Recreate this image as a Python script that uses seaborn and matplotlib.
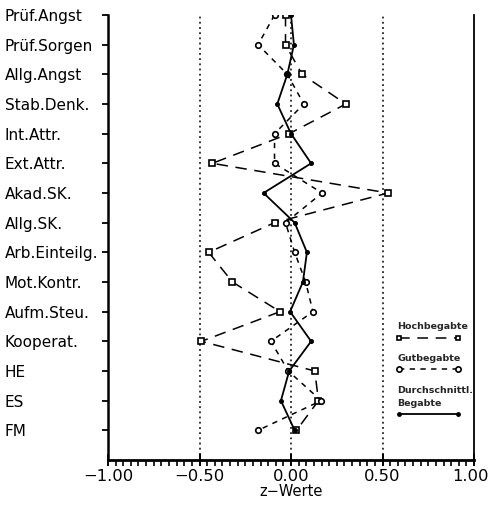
import numpy as np
import pandas as pd
import matplotlib
matplotlib.use("Agg")
import matplotlib.pyplot as plt
from matplotlib.ticker import MultipleLocator
from matplotlib.lines import Line2D
from matplotlib.transforms import ScaledTranslation
import seaborn as sns

# ---------------- data ----------------
categories = ["Prüf.Angst", "Prüf.Sorgen", "Allg.Angst", "Stab.Denk.", "Int.Attr.",
              "Ext.Attr.", "Akad.SK.", "Allg.SK.", "Arb.Einteilg.", "Mot.Kontr.",
              "Aufm.Steu.", "Kooperat.", "HE", "ES", "FM"]
hochbegabte = [-0.03, -0.03, 0.06, 0.30, -0.01, -0.43, 0.53, -0.09, -0.45, -0.32,
               -0.06, -0.49, 0.13, 0.15, 0.03]
gutbegabte = [-0.09, -0.18, -0.02, 0.07, -0.09, -0.09, 0.17, -0.03, 0.02, 0.08,
              0.12, -0.11, -0.015, 0.165, -0.18]
durchschnittl = [0.00, 0.016, -0.02, -0.075, 0.00, 0.11, -0.15, 0.02, 0.087, 0.065,
                 -0.005, 0.11, -0.01, -0.055, 0.02]
x_ticks = [-1.0, -0.5, 0.0, 0.5, 1.0]
x_ticklabels = ["\u22121.00", "\u22120.50", "0.00", "0.50", "1.00"]
ref_lines = [-0.5, 0.0, 0.5]
x_label = "z\u2212Werte"
legend_labels = ["Hochbegabte", "Gutbegabte", "Durchschnittl.\nBegabte"]

pos = np.arange(len(categories))
df = pd.DataFrame({"pos": pos, "hoch": hochbegabte, "gut": gutbegabte,
                   "durch": durchschnittl})

# ---------------- figure ----------------
sns.set_theme(style="ticks")
plt.rcParams["font.family"] = ["DejaVu Sans"]
fig = plt.figure(figsize=(4.9, 5.07), dpi=100)
ax = fig.add_axes([108 / 490, 1 - 460 / 507, 366 / 490, 445 / 507])

for xv in ref_lines:
    ax.axvline(xv, color="black", linestyle=(0, (1.2, 2.2)), lw=1.1, zorder=1)

sns.lineplot(data=df, x="hoch", y="pos", orient="y", sort=False, ax=ax,
             color="black", lw=1.1, linestyle=(0, (7.5, 5)),
             marker="s", markersize=3.8, markerfacecolor="white",
             markeredgecolor="black", markeredgewidth=1.2, zorder=3)
sns.lineplot(data=df, x="gut", y="pos", orient="y", sort=False, ax=ax,
             color="black", lw=1.1, linestyle=(0, (3.5, 3.5)),
             marker="o", markersize=4, markerfacecolor="white",
             markeredgecolor="black", markeredgewidth=1.2, zorder=3)
sns.lineplot(data=df, x="durch", y="pos", orient="y", sort=False, ax=ax,
             color="black", lw=1.3, linestyle="-",
             marker="o", markersize=2.8, markerfacecolor="black",
             markeredgecolor="black", zorder=4)

ax.set_xlim(-1.0, 1.0)
ax.set_ylim(len(categories), 0)
ax.set_xticks(x_ticks)
ax.set_xticklabels(x_ticklabels, fontsize=11.8)
ax.xaxis.set_minor_locator(MultipleLocator(0.5 / 12))
ax.set_yticks(pos)
ax.set_yticklabels(categories, fontsize=11)
for lbl in ax.get_yticklabels():
    lbl.set_horizontalalignment("left")
ax.tick_params(axis="y", direction="out", length=4, width=1.3, pad=70.5,
               color="black", labelcolor="black")
ax.tick_params(axis="x", which="major", direction="inout", length=9, width=1.4,
               pad=2, color="black", labelcolor="black")
ax.tick_params(axis="x", which="minor", direction="out", length=4, width=1.2,
               color="black")
ax.set_xlabel(x_label, fontsize=10.5, labelpad=0, color="black")
ax.set_ylabel("")

# keep the right-most tick label inside the canvas
last_lbl = ax.get_xticklabels()[-1]
last_lbl.set_transform(last_lbl.get_transform()
                       + ScaledTranslation(-4 / 100, 0, fig.dpi_scale_trans))

ax.spines["top"].set_visible(False)
for side, w in [("left", 1.8), ("bottom", 2.0), ("right", 1.3)]:
    ax.spines[side].set_linewidth(w)
    ax.spines[side].set_color("black")

# ---------------- legend (drawn as annotation) ----------------
tr = ax.transAxes
lx0, lx1 = 0.795, 0.956
ax.text(0.79, 0.299, legend_labels[0], transform=tr, fontsize=6.8,
        fontweight="bold", va="center", ha="left")
ax.add_line(Line2D([lx0, lx1], [0.274, 0.274], transform=tr, color="black",
                   lw=1.1, linestyle=(0, (7, 5)), marker="s", markersize=3.5,
                   markerfacecolor="white", markeredgewidth=1.2))
ax.text(0.79, 0.229, legend_labels[1], transform=tr, fontsize=6.8,
        fontweight="bold", va="center", ha="left")
ax.add_line(Line2D([lx0, lx1], [0.204, 0.204], transform=tr, color="black",
                   lw=1.1, linestyle=(0, (3.5, 3.5)), marker="o", markersize=3.8,
                   markerfacecolor="white", markeredgewidth=1.2))
ax.text(0.79, 0.142, legend_labels[2], transform=tr, fontsize=6.8,
        fontweight="bold", va="center", ha="left", linespacing=1.55)
ax.add_line(Line2D([lx0, lx1], [0.103, 0.103], transform=tr, color="black",
                   lw=1.3, linestyle="-", marker="o", markersize=2.5,
                   markerfacecolor="black"))

fig.savefig("out.png", dpi=100, facecolor="white")
